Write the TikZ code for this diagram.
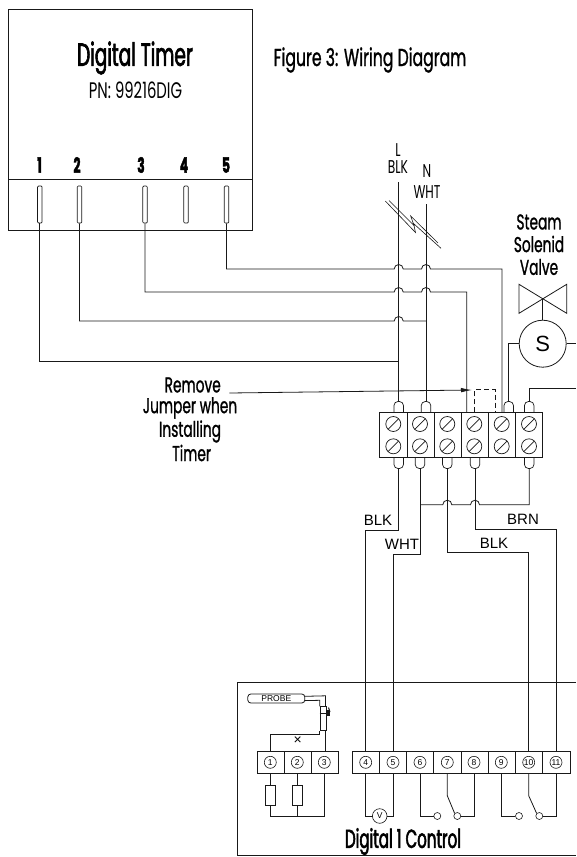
\documentclass[tikz,border=0pt]{standalone}
\usepackage{fontspec}
\usetikzlibrary{arrows.meta}
\setmainfont[FakeStretch=0.58,FakeBold=2]{Poppins}
\newfontfamily\labelfont[FakeStretch=0.66]{Poppins}
\newfontfamily\headfont[FakeStretch=0.64,FakeBold=1]{Poppins}
\newfontfamily\wirefont{Liberation Sans}
\definecolor{wire}{rgb}{0.1,0.1,0.1}
\tikzset{
    cell/.style={draw=wire, fill=white, line width=0.9pt, inner sep=0pt, minimum height=22.4pt},
    screw/.style={draw=wire, circle, line width=0.7pt, inner sep=0pt, minimum size=15pt,
        path picture={\draw[wire, line width=0.7pt] (path picture bounding box.south west) -- (path picture bounding box.north east);}},
    slot/.style={draw=wire, rounded corners=1pt, line width=0.7pt, inner sep=0pt, minimum width=4.5pt, minimum height=37pt},
    lug/.style={draw=wire, rounded corners=4pt, line width=0.7pt, inner sep=0pt, minimum width=9.5pt, minimum height=24pt},
    pin/.style={draw=wire, circle, line width=0.6pt, inner sep=0pt, minimum size=12pt, font=\wirefont\fontsize{8.5}{9}\selectfont},
    contact/.style={draw=wire, circle, line width=0.6pt, inner sep=0pt, minimum size=7pt},
    load/.style={draw=wire, line width=0.6pt, inner sep=0pt, minimum width=10.5pt, minimum height=20pt},
    title/.style={inner sep=0pt, font=\fontsize{32}{34}\selectfont},
    subtitle/.style={inner sep=0pt, font=\labelfont\fontsize{18.5}{20}\selectfont},
    number/.style={inner sep=0pt, font=\bfseries\fontsize{21}{22}\selectfont},
    callout/.style={inner sep=0pt, font=\headfont\fontsize{21.5}{23}\selectfont},
    colour/.style={inner sep=0pt, font=\wirefont\fontsize{15}{16}\selectfont}
}

\begin{document}
\begin{tikzpicture}[x=1pt, y=-1pt, line width=0.8pt, draw=wire]
    \useasboundingbox (0,0) rectangle (576,857);

    % timer
    \draw[line width=0.8pt] (8.5,9.5) rectangle (252.5,230);
    \draw (8.5,179) -- (252.5,179);
    \node[title] (timer) at (135,58) {Digital Timer};
    \node[subtitle, font=\labelfont\fontsize{22.5}{24}\selectfont] (partno) at (135.5,90) {PN: 99216DIG};
    \node[subtitle, font=\headfont\fontsize{24.5}{26}\selectfont] (figtitle) at (370,60) {Figure 3: Wiring Diagram};
    \node[number] (numA) at (39.5,165) {1};
    \node[number] (numB) at (77,165) {2};
    \node[number] (numC) at (141,165) {3};
    \node[number] (numD) at (184,165) {4};
    \node[number] (numE) at (226,165) {5};
    \node[slot] (slotA) at (39.8,204.5) {};
    \node[slot] (slotB) at (79.5,204.5) {};
    \node[slot] (slotC) at (145,204.5) {};
    \node[slot] (slotD) at (186,204.5) {};
    \node[slot] (slotE) at (226.5,204.5) {};

    % terminal block
    \node[lug] (lugA) at (398.7,413.5) {};
    \node[lug] (lugB) at (426,413.5) {};
    \node[lug] (lugE) at (508.7,413.5) {};
    \node[lug] (lugF) at (529.2,413.5) {};
    \node[lug] (lowA) at (398.7,456.5) {};
    \node[lug] (lowB) at (420,456.5) {};
    \node[lug] (lowC) at (447.3,456.5) {};
    \node[lug] (lowD) at (475,456.5) {};
    \node[lug] (lowF) at (529.2,456.5) {};
    \node[cell, minimum width=27.7pt, minimum height=44.6pt] (cellA) at (393.2,435) {};
    \node[cell, minimum width=27.3pt, minimum height=44.6pt] (cellB) at (420.7,435) {};
    \node[cell, minimum width=27pt, minimum height=44.6pt] (cellC) at (447.8,435) {};
    \node[cell, minimum width=27pt, minimum height=44.6pt] (cellD) at (474.8,435) {};
    \node[cell, minimum width=27pt, minimum height=44.6pt] (cellE) at (501.8,435) {};
    \node[cell, minimum width=27.4pt, minimum height=44.6pt] (cellF) at (529,435) {};
    \node[screw] (screwA) at (393.3,424) {};
    \node[screw] (screwB) at (420,424) {};
    \node[screw] (screwC) at (447.3,424) {};
    \node[screw] (screwD) at (474.3,424) {};
    \node[screw] (screwE) at (501.7,424) {};
    \node[screw] (screwF) at (529,424) {};
    \node[screw] (screwG) at (393.3,446.3) {};
    \node[screw] (screwH) at (420,446.3) {};
    \node[screw] (screwI) at (447.3,446.3) {};
    \node[screw] (screwJ) at (474.3,446.3) {};
    \node[screw] (screwK) at (501.7,446.3) {};
    \node[screw] (screwL) at (529,446.3) {};

    % supply and timer wires
    \node[subtitle] (labL) at (398,150) {L};
    \node[subtitle] (labBlk) at (398,167) {BLK};
    \node[subtitle] (labN) at (427,171) {N};
    \node[subtitle] (labWht) at (427,192) {WHT};
    \coordinate (lineL) at (398.7,182);
    \coordinate (lineN) at (426,204);
    \draw (lineL) -- (lugA.north);
    \draw (lineN) -- (lugB.north);
    \draw[line width=0.6pt] (385.3,201) -- (415.5,232.5) -- (413.5,223.5) -- (441,248.3);
    \draw[line width=0.6pt] (389,200.5) -- (414,225.5) -- (410.7,216) -- (438,243);
    \draw (slotA.south) |- (lineL |- 0,361.5);
    \draw (slotB.south) |- (394.2,321) arc (180:360:4.5) -- (426,321);
    \draw (slotC.south) |- (394.2,292) arc (180:360:4.5) -- (421.5,292) arc (180:360:4.5) -- (466.7,292) -- (466.7,0 |- cellD.north);
    \draw (slotE.south) |- (394.2,269) arc (180:360:4.5) -- (421.5,269) arc (180:360:4.5) -- (502,269) -- (502,0 |- cellE.north);

    % valve
    \node[callout] (steam) at (539,222) {Steam};
    \node[callout] (solenid) at (539,244) {Solenid};
    \node[callout] (valve) at (539,267) {Valve};
    \node[draw=wire, circle, inner sep=0pt, minimum size=47pt, font=\wirefont\fontsize{22}{22}\selectfont] (sol) at (542.7,343.7) {S};
    \coordinate (waist) at (542.7,299);
    \draw (519,284.3) -- (566.7,313.3) -- (566.7,284.3) -- (519,313.3) -- cycle;
    \draw (waist) -- (sol.north);
    \draw (lugE.north) |- (sol.west);
    \coordinate (solout) at (576,343.7);
    \draw (sol.east) -- (solout);
    \coordinate (feed) at (576,388);
    \draw (lugF.north) |- (feed);

    % jumper
    \draw[dash pattern=on 5pt off 3pt, line width=0.9pt] (474.7,0 |- cellD.north) -- (474.7,389.7) -- (495.3,389.7) -- (495.3,0 |- cellE.north);
    \node[callout] (remove) at (192.7,385) {Remove};
    \node[callout] (jumpwhen) at (190,408) {Jumper when};
    \node[callout] (install) at (190,431.5) {Installing};
    \node[callout] (timerlab) at (191.7,453) {Timer};
    \coordinate (jumpertail) at (229.3,393);
    \coordinate (jumpertip) at (472,390);
    \draw[-{Latex[length=11pt,width=4.5pt]}] (jumpertail) -- (jumpertip);

    % wires to control
    \node[colour] (labA) at (378,520) {BLK};
    \node[colour] (labB) at (402,544) {WHT};
    \node[colour] (labC) at (523,519) {BRN};
    \node[colour] (labD) at (494,543) {BLK};

    % control
    \draw (576,682.7) -- (237.3,682.7) -- (237.3,855.3) -- (576,855.3);
    \node[cell, minimum width=27pt] (unitA) at (270.5,762.2) {};
    \node[cell, minimum width=27pt] (unitB) at (297.5,762.2) {};
    \node[cell, minimum width=27.3pt] (unitC) at (324.7,762.2) {};
    \node[cell, minimum width=27pt] (unitD) at (365.8,762.2) {};
    \node[cell, minimum width=27.4pt] (unitE) at (393,762.2) {};
    \node[cell, minimum width=27pt] (unitF) at (420.2,762.2) {};
    \node[cell, minimum width=27.3pt] (unitG) at (447.4,762.2) {};
    \node[cell, minimum width=27.3pt] (unitH) at (474.6,762.2) {};
    \node[cell, minimum width=27.4pt] (unitI) at (502,762.2) {};
    \node[cell, minimum width=27pt] (unitJ) at (529.2,762.2) {};
    \node[cell, minimum width=27.3pt] (unitK) at (556.4,762.2) {};
    \node[pin] (pinA) at (270.3,762.3) {1};
    \node[pin] (pinB) at (297.3,762.3) {2};
    \node[pin] (pinC) at (324.3,762.3) {3};
    \node[pin] (pinD) at (365.7,762.3) {4};
    \node[pin] (pinE) at (393,762.3) {5};
    \node[pin] (pinF) at (420,762.3) {6};
    \node[pin] (pinG) at (447.3,762.3) {7};
    \node[pin] (pinH) at (474,762.3) {8};
    \node[pin] (pinI) at (501.3,762.3) {9};
    \node[pin] (pinJ) at (528.7,762.3) {10};
    \node[pin] (pinK) at (556,762.3) {11};
    \node[inner sep=0pt, font=\fontsize{26}{28}\selectfont] (control) at (403,841.5) {Digital 1 Control};

    % wires from the block
    \draw (lowA.south) -- (398.7,530) -- (365.7,530) -- (unitD.north -| pinD);
    \draw (lowB.south) -- (420,554) -- (393,554) -- (unitE.north -| pinE);
    \draw (420,504.7) -- (442.8,504.7) arc (180:360:4.5) -- (470.5,504.7) arc (180:360:4.5) -- (529.2,504.7) -- (lowF.south);
    \draw (lowC.south) -- (447.3,552.7) -- (528.7,552.7) -- (unitJ.north -| pinJ);
    \draw (lowD.south) -- (475,529) -- (556,529) -- (unitK.north -| pinK);

    % probe
    \node[draw=wire, rounded corners=3pt, inner sep=0pt, minimum width=57pt, minimum height=9pt, font=\wirefont\fontsize{8.5}{9}\selectfont] (probe) at (276.3,698.5) {PROBE};
    \node[draw=wire, inner sep=0pt, minimum width=6.7pt, minimum height=24pt] (sensor) at (323.4,718.7) {};
    \draw (sensor.north west) -- ++(0,-6) -- (probe.east |- 0,700.6);
    \draw (sensor.north east) ++(-1.6,0) -- ++(0,-10.5) -- (probe.east |- 0,696.3);
    \draw (sensor.west |- 0,713) -- (sensor.east |- 0,713);
    \fill[wire] (327,710) rectangle (329.5,716);
    \draw[line width=1pt] (328.5,707.5) -- (330,712);
    \draw (sensor.south west) -- ++(0,3.6) -| (unitA.north -| pinA);
    \draw (325,730.7) -- (unitC.north -| 325,0);
    \node[inner sep=0pt, font=\wirefont\fontsize{14}{14}\selectfont] (cross) at (297.7,741) {×};

    \node[load] (loadA) at (270.3,795) {};
    \node[load] (loadB) at (297.3,795) {};
    \draw (unitA.south -| pinA) -- (loadA.north);
    \draw (unitB.south -| pinB) -- (loadB.north);
    \draw (loadA.south) -- (270.3,816) -- (324.3,816) -- (unitC.south -| pinC);
    \draw (loadB.south) -- (297.3,816);

    \node[pin, minimum size=14.6pt] (volt) at (379.7,816) {V};
    \draw (unitD.south -| pinD) |- (volt.west);
    \draw (unitE.south -| pinE) |- (volt.east);

    \node[contact] (relayA) at (437.3,816) {};
    \node[contact] (relayB) at (457.3,816) {};
    \node[contact] (relayC) at (519,816) {};
    \node[contact] (relayD) at (539.3,816) {};
    \draw (unitF.south -| pinF) |- (relayA.west);
    \draw (unitG.south -| pinG) -- (447.3,795.7) -- (relayB.north west);
    \draw (unitH.south -| pinH) |- (relayB.east);
    \draw (unitI.south -| pinI) |- (relayC.west);
    \draw (unitJ.south -| pinJ) -- (528.7,795.7) -- (relayD.north west);
    \draw (unitK.south -| pinK) |- (relayD.east);
\end{tikzpicture}
\end{document}
